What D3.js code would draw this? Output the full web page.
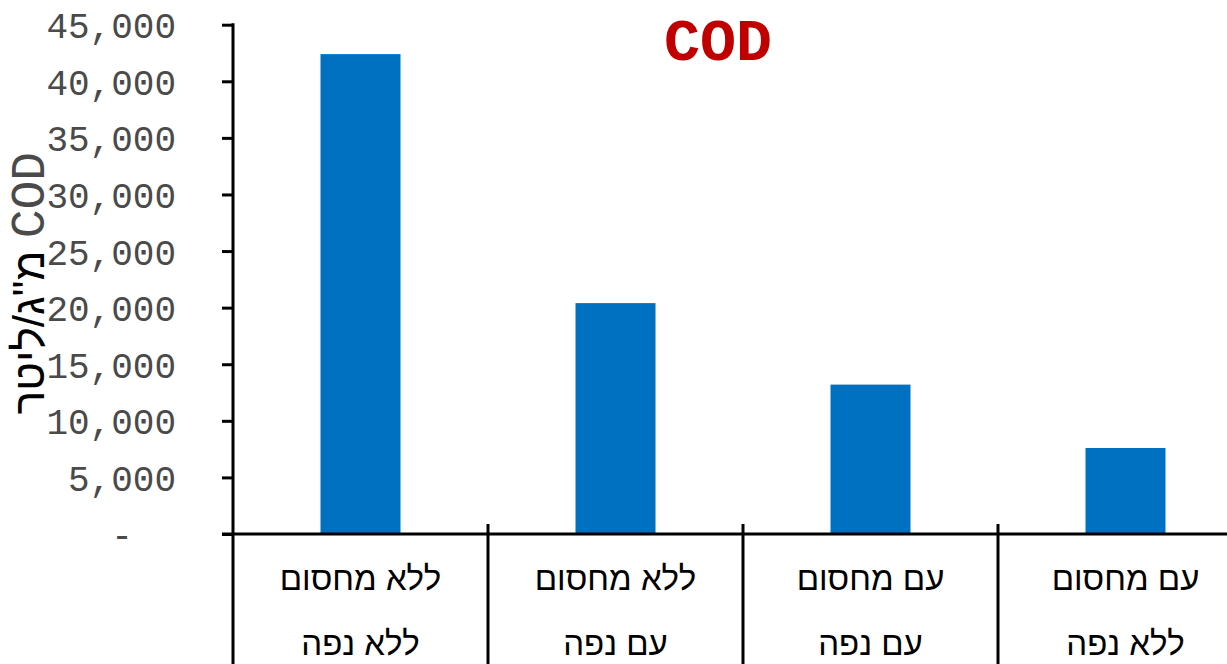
<!DOCTYPE html>
<html>
<head>
<meta charset="utf-8">
<script src="https://cdn.jsdelivr.net/npm/d3@7"></script>
<style>
  html, body { margin: 0; padding: 0; background: #fff; }
  svg { display: block; }
</style>
</head>
<body>
<svg id="chart" width="1227" height="664"></svg>
<script>
// COD concentration (mg/L) per treatment
const categories = [
  "ללא מחסום\nללא נפה",
  "ללא מחסום\nעם נפה",
  "עם מחסום\nעם נפה",
  "עם מחסום\nללא נפה"
];
const codValues = [42400, 20400, 13200, 7600];
const yTicks = [0, 5000, 10000, 15000, 20000, 25000, 30000, 35000, 40000, 45000];
const chartTitle = "COD";
const yLabelHebrew = "מ\"ג/ליטר";
const yLabelLatin = "COD";

const svg = d3.select("#chart");
const W = 1227, H = 664;
const plotLeft = 233, plotRight = 1253, plotTop = 24.7, plotBase = 534;

const y = d3.scaleLinear().domain([0, 45000]).range([plotBase, plotTop]);
const x = d3.scaleBand()
  .domain(categories)
  .range([plotLeft, plotRight])
  .paddingInner(0.6863)
  .paddingOuter(0.6863 / 2);

// bars
svg.append("g")
  .selectAll("rect")
  .data(codValues)
  .join("rect")
  .attr("x", (d, i) => x(categories[i]))
  .attr("y", d => y(d))
  .attr("width", x.bandwidth())
  .attr("height", d => y(0) - y(d))
  .attr("fill", "#0070C0");

// y axis
const fmt = d3.format(",");
const yAxis = d3.axisLeft(y)
  .tickValues(yTicks)
  .tickSize(11)
  .tickPadding(0)
  .tickFormat(d => d === 0 ? "-  " : fmt(d));
const gy = svg.append("g")
  .attr("transform", `translate(${plotLeft},0)`)
  .call(yAxis);
gy.select(".domain").remove();
gy.selectAll(".tick line").attr("stroke", "#000").attr("stroke-width", 3);
gy.selectAll(".tick text")
  .attr("x", -57)
  .attr("dy", "0.36em")
  .style("white-space", "pre")
  .attr("font-family", "'Liberation Mono', 'Courier New', monospace")
  .attr("font-size", 36)
  .attr("fill", "#4a4a4a");

// vertical axis line running down through the category area
svg.append("line")
  .attr("x1", plotLeft).attr("x2", plotLeft)
  .attr("y1", plotTop - 1.5).attr("y2", H)
  .attr("stroke", "#000").attr("stroke-width", 3);

// baseline
svg.append("line")
  .attr("x1", plotLeft - 11).attr("x2", W)
  .attr("y1", y(0)).attr("y2", y(0))
  .attr("stroke", "#000").attr("stroke-width", 3);

// category dividers
const step = x.step();
svg.append("g")
  .selectAll("line")
  .data(d3.range(1, categories.length + 1))
  .join("line")
  .attr("x1", i => plotLeft + i * step)
  .attr("x2", i => plotLeft + i * step)
  .attr("y1", y(0) - 10)
  .attr("y2", H)
  .attr("stroke", "#000")
  .attr("stroke-width", 3);

// category labels (two lines each)
const catG = svg.append("g");
categories.forEach(c => {
  const cx = x(c) + x.bandwidth() / 2;
  c.split("\n").forEach((line, j) => {
    catG.append("text")
      .attr("x", cx)
      .attr("y", 590 + j * 65)
      .attr("text-anchor", "middle")
      .attr("font-family", "'Liberation Sans', Arial, sans-serif")
      .attr("font-size", 33)
      .attr("fill", "#000")
      .text(line);
  });
});

// title
svg.append("text")
  .attr("x", 718)
  .attr("y", 60)
  .attr("text-anchor", "middle")
  .attr("font-family", "'Liberation Mono', 'Courier New', monospace")
  .attr("font-weight", "bold")
  .attr("font-size", 60)
  .attr("fill", "#C00000")
  .text(chartTitle);

// y axis title
const yt = svg.append("text")
  .attr("transform", "translate(44,283) rotate(-90)")
  .attr("text-anchor", "middle")
  .attr("fill", "#000");
yt.append("tspan")
  .attr("font-family", "'Liberation Sans', Arial, sans-serif")
  .attr("font-size", 44)
  .text(yLabelHebrew + " ");
yt.append("tspan")
  .attr("font-family", "'Liberation Mono', 'Courier New', monospace")
  .attr("font-size", 48)
  .attr("fill", "#4a4a4a")
  .text(yLabelLatin);
</script>
</body>
</html>
